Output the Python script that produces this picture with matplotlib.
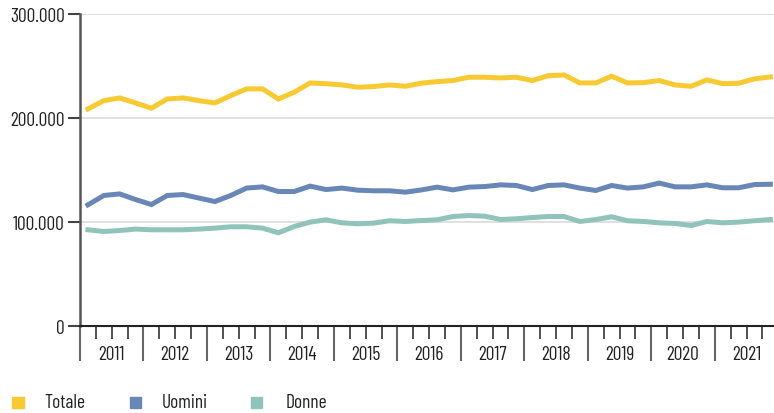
import matplotlib.pyplot as plt
from matplotlib.patches import Rectangle
from matplotlib.ticker import FuncFormatter, FixedLocator
import numpy as np

plt.rcParams['font.family'] = ['Barlow Condensed', 'DejaVu Sans']

# quarterly data 2011 Q1 - 2021 Q4 (thousands)
years = [str(y) for y in range(2011, 2022)]
totale = [208.7, 216.7, 219.3, 214.5, 209.4, 218.3, 219.3, 216.7, 214.5, 221.5, 228.0, 228.0,
          218.3, 224.8, 233.7, 233.0, 231.8, 229.6, 230.2, 231.8, 230.5, 233.5, 235.0, 236.0,
          239.2, 239.2, 238.5, 239.2, 236.0, 240.7, 241.4, 233.7, 233.7, 240.2, 233.7, 234.0,
          236.0, 231.8, 230.5, 236.6, 233.0, 233.4, 237.6, 239.5]
uomini = [116.5, 125.5, 127.0, 121.6, 116.8, 125.5, 126.4, 123.0, 119.7, 125.5, 132.6, 133.8,
          129.3, 129.3, 134.5, 131.2, 132.6, 130.6, 130.0, 130.0, 128.7, 130.8, 133.5, 130.9,
          133.5, 134.1, 135.7, 135.1, 131.2, 135.1, 135.7, 132.6, 130.3, 135.1, 132.6, 133.8,
          137.4, 133.8, 133.8, 135.7, 132.9, 132.9, 136.0, 136.3]
donne = [92.5, 90.9, 91.8, 93.2, 92.5, 92.5, 92.5, 93.2, 94.1, 95.4, 95.4, 94.1,
         89.6, 95.7, 99.9, 102.1, 99.2, 98.3, 98.9, 101.2, 100.5, 101.4, 102.1, 105.3,
         106.2, 105.6, 102.4, 103.1, 104.3, 105.3, 105.3, 100.5, 102.4, 105.0, 101.2, 100.5,
         99.2, 98.6, 96.6, 100.5, 99.2, 99.9, 101.2, 102.4]
series = ["Totale", "Uomini", "Donne"]
colors = ["#F7C933", "#6987B6", "#90C4BA"]

W, H = 774, 414
fig = plt.figure(figsize=(W / 100, H / 100), dpi=100)
ax = fig.add_axes([80 / W, (H - 327) / H, (W - 80) / W, 312 / H])

x = np.arange(len(totale)) + 0.5
for vals, c in zip([totale, uomini, donne], colors):
    ax.plot(x, np.array(vals) * 1000, color=c, lw=3.6, solid_joinstyle='miter', zorder=3)

ax.set_xlim(0, (W - 80) / 15.87)
ax.set_ylim(0, 300000)

# y axis
ax.set_yticks([0, 100000, 200000, 300000])
ax.yaxis.set_major_formatter(FuncFormatter(lambda v, p: f"{int(v):,}".replace(",", ".")))
ax.tick_params(axis='y', length=9, width=1.5, color='#444444', pad=2, labelsize=14, labelcolor='#222222')
for yv in [100000, 200000, 300000]:
    ax.axhline(yv, color='#dddddd', lw=1.3, zorder=1)

# x axis: year boundaries (long) and quarter ticks (short)
ax.xaxis.set_major_locator(FixedLocator(np.arange(0, 45, 4)))
ax.xaxis.set_minor_locator(FixedLocator([q for q in range(45) if q % 4]))
ax.tick_params(axis='x', which='major', length=25, width=1.5, color='#666666', labelbottom=False)
ax.tick_params(axis='x', which='minor', length=9, width=1.2, color='#333333')
for i, y in enumerate(years):
    ax.text(i * 4 + 2, -0.09, y, transform=ax.get_xaxis_transform(), ha='center', va='center',
            fontsize=14, color='#222222')

for s in ['top', 'right']:
    ax.spines[s].set_visible(False)
ax.spines['left'].set_color('#555555')
ax.spines['left'].set_linewidth(1.8)
ax.spines['bottom'].set_color('#222222')
ax.spines['bottom'].set_linewidth(1.5)

# legend
sq_x = [12.5, 130, 251]
tx_x = [44, 162, 286]
for name, c, sx, tx in zip(series, colors, sq_x, tx_x):
    fig.patches.append(Rectangle((sx / W, (H - 409) / H), 11 / W, 11 / H, color=c,
                                 transform=fig.transFigure, figure=fig))
    fig.text(tx / W, (H - 403) / H, name, ha='left', va='center', fontsize=14, color='#222222')

fig.savefig("out.png", dpi=100)
